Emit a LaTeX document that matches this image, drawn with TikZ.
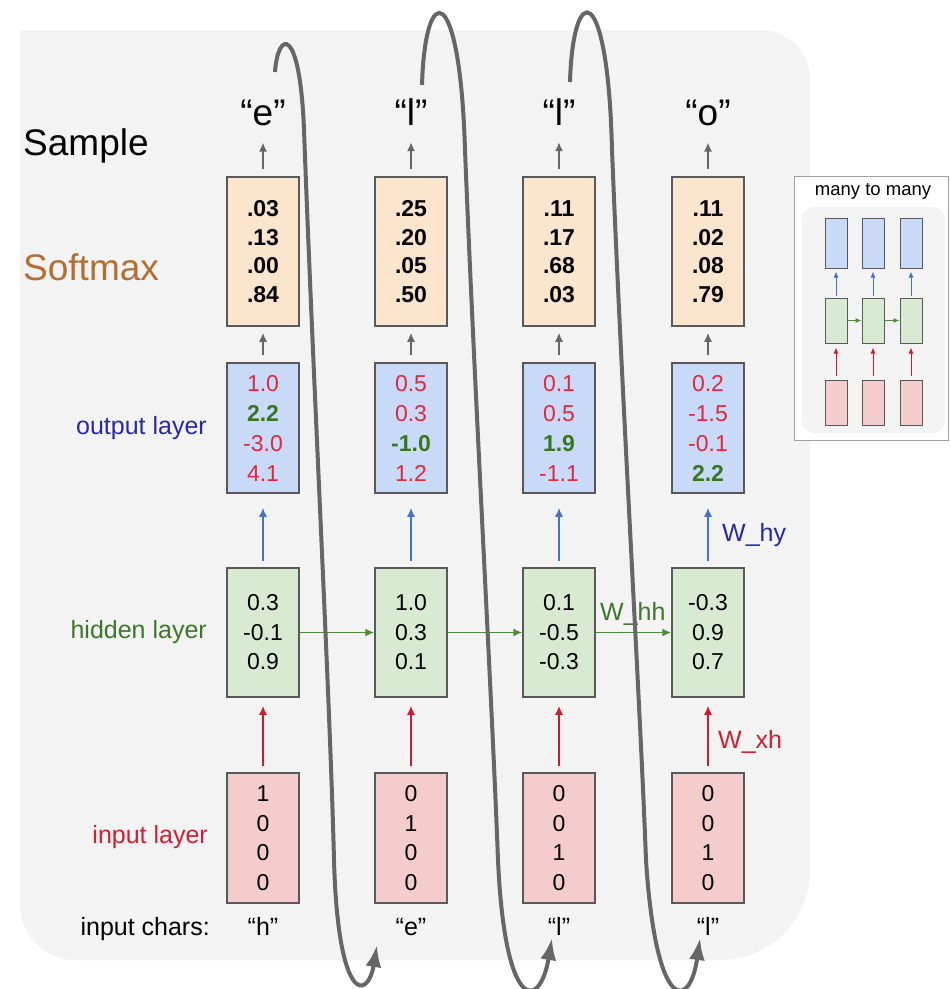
\documentclass[tikz,border=0pt]{standalone}
\usepackage{fontspec}
\setmainfont{Liberation Sans}
\usetikzlibrary{arrows.meta}

\definecolor{bgfill}{HTML}{F3F3F3}
\definecolor{boxline}{HTML}{595959}
\definecolor{softfill}{HTML}{FCE5CD}
\definecolor{outfill}{HTML}{C9DAF8}
\definecolor{hidfill}{HTML}{D9EAD3}
\definecolor{infill}{HTML}{F4CCCC}
\definecolor{valred}{RGB}{225,40,60}
\definecolor{valgreen}{RGB}{56,118,29}
\definecolor{softlab}{RGB}{180,110,50}
\definecolor{outlab}{RGB}{40,40,170}
\definecolor{hidlab}{RGB}{60,120,40}
\definecolor{inlab}{RGB}{210,30,50}
\definecolor{arrgray}{HTML}{666666}
\definecolor{arrblue}{RGB}{70,115,200}
\definecolor{arrgreen}{RGB}{78,138,58}
\definecolor{arrred}{RGB}{200,30,45}
\definecolor{loopgray}{HTML}{666666}
\definecolor{insetline}{HTML}{A0A0A0}

\newcommand\valR[1]{\textcolor{valred}{#1}}
\newcommand\valG[1]{\textcolor{valgreen}{\bfseries #1}}

\begin{document}
\begin{tikzpicture}[x=1pt,y=-1pt,
  vbox/.style={draw=boxline, line width=1.5pt, minimum width=72pt,
    inner sep=0pt, align=center},
  probbox/.style={vbox, fill=softfill, minimum height=149pt,
    font=\fontsize{23}{28.5}\selectfont\bfseries},
  outbox/.style={vbox, fill=outfill, minimum height=130pt,
    font=\fontsize{23}{30}\selectfont},
  hidbox/.style={vbox, fill=hidfill, minimum height=129pt,
    font=\fontsize{23}{29.5}\selectfont},
  inbox/.style={vbox, fill=infill, minimum height=130pt,
    font=\fontsize{23}{29.5}\selectfont},
  samp/.style={inner sep=0pt, font=\fontsize{37}{40}\selectfont},
  chr/.style={inner sep=0pt, font=\fontsize{25}{28}\selectfont},
  rowlab/.style={inner sep=0pt, font=\fontsize{25}{28}\selectfont},
  wlab/.style={inner sep=0pt, font=\fontsize{25}{28}\selectfont},
  grayarr/.style={draw=arrgray, line width=1.5pt, -{Latex[length=9pt,width=8pt]}},
  bluearr/.style={draw=arrblue, line width=1.5pt, -{Latex[length=9pt,width=8pt]}},
  greenarr/.style={draw=arrgreen, line width=1.5pt, -{Latex[length=9pt,width=8pt]}},
  redarr/.style={draw=arrred, line width=1.5pt, -{Latex[length=9pt,width=8pt]}},
  minibox/.style={draw=boxline, line width=1pt, minimum width=22pt, inner sep=0pt},
  miniarr/.style={line width=1pt, -{Latex[length=6pt,width=5pt]}},
  loop/.style={draw=loopgray, line width=4pt, -{Latex[length=22pt,width=16pt]}}
]
\useasboundingbox (0,0) rectangle (951,989);

% background panel
\fill[bgfill] (20,30) -- (762,30) .. controls (788,30) and (810,52) .. (810,78)
  -- (810,870) .. controls (810,920) and (770,960) .. (720,960)
  -- (75,960) .. controls (45,960) and (20,935) .. (20,905) -- cycle;

% row labels
\node[inner sep=0pt, font=\fontsize{37}{40}\selectfont, anchor=base west] (labsample) at (23,155) {Sample};
\node[inner sep=0pt, font=\fontsize{37}{40}\selectfont, text=softlab, anchor=base west] (labsoft) at (23,280) {Softmax};
\node[rowlab, text=outlab, anchor=base east] (labout) at (207,434) {output layer};
\node[rowlab, text=hidlab, anchor=base east] (labhid) at (207,638) {hidden layer};
\node[rowlab, text=inlab, anchor=base east] (labin) at (208,843) {input layer};
\node[rowlab, anchor=base east] (labchars) at (210,935) {input chars:};

% softmax boxes
\node[probbox] (p1) at (263,251.5) {.03\\.13\\.00\\.84};
\node[probbox] (p2) at (411,251.5) {.25\\.20\\.05\\.50};
\node[probbox] (p3) at (559,251.5) {.11\\.17\\.68\\.03};
\node[probbox] (p4) at (708,251.5) {.11\\.02\\.08\\.79};

% output layer
\node[outbox] (o1) at (263,428) {\valR{1.0}\\\valG{2.2}\\\valR{-3.0}\\\valR{4.1}};
\node[outbox] (o2) at (411,428) {\valR{0.5}\\\valR{0.3}\\\valG{-1.0}\\\valR{1.2}};
\node[outbox] (o3) at (559,428) {\valR{0.1}\\\valR{0.5}\\\valG{1.9}\\\valR{-1.1}};
\node[outbox] (o4) at (708,428) {\valR{0.2}\\\valR{-1.5}\\\valR{-0.1}\\\valG{2.2}};

% hidden layer
\node[hidbox] (h1) at (263,632.5) {0.3\\-0.1\\0.9};
\node[hidbox] (h2) at (411,632.5) {1.0\\0.3\\0.1};
\node[hidbox] (h3) at (559,632.5) {0.1\\-0.5\\-0.3};
\node[hidbox] (h4) at (708,632.5) {-0.3\\0.9\\0.7};

% input layer
\node[inbox] (x1) at (263,838) {1\\0\\0\\0};
\node[inbox] (x2) at (411,838) {0\\1\\0\\0};
\node[inbox] (x3) at (559,838) {0\\0\\1\\0};
\node[inbox] (x4) at (708,838) {0\\0\\1\\0};

% sampled characters
\node[samp, anchor=base] (s1) at (263,125) {“e”};
\node[samp, anchor=base] (s2) at (411,125) {“l”};
\node[samp, anchor=base] (s3) at (559,125) {“l”};
\node[samp, anchor=base] (s4) at (708,125) {“o”};

% input characters
\node[chr, anchor=base] (c1) at (263,935) {“h”};
\node[chr, anchor=base] (c2) at (411,935) {“e”};
\node[chr, anchor=base] (c3) at (559,935) {“l”};
\node[chr, anchor=base] (c4) at (708,935) {“l”};

% vertical connections
\foreach \i in {1,2,3,4}{
  \draw[grayarr, shorten <=7pt, shorten >=17pt] (p\i.north) -- (s\i.south);
  \draw[grayarr, shorten <=7pt, shorten >=6pt] (o\i.north) -- (p\i.south);
  \draw[bluearr, shorten <=6pt, shorten >=14pt] (h\i.north) -- (o\i.south);
  \draw[redarr, shorten <=6pt, shorten >=8pt] (x\i.north) -- (h\i.south);
}
% recurrent connections
\draw[greenarr] (h1.east) -- (h2.west);
\draw[greenarr] (h2.east) -- (h3.west);
\draw[greenarr] (h3.east) -- (h4.west);

% weight labels
\node[wlab, text=outlab, anchor=base west] (why) at (722,541) {W\_hy};
\node[wlab, text=hidlab, anchor=base west] (whh) at (600,620) {W\_hh};
\node[wlab, text=inlab, anchor=base west] (wxh) at (718,748) {W\_xh};

% inset: many to many
\node[draw=insetline, fill=white, line width=1pt, minimum width=154pt,
  minimum height=264pt, inner sep=0pt] (inset) at (871,308) {};
\node[inner sep=0pt, font=\fontsize{18.5}{20}\selectfont, anchor=base] (insettitle) at (873,195) {many to many};
\fill[bgfill, rounded corners=12pt] (802,207) rectangle (945,433);
\foreach \i/\xx in {1/836,2/873,3/911}{
  \node[minibox, fill=outfill, minimum height=50pt] (mo\i) at (\xx,243) {};
  \node[minibox, fill=hidfill, minimum height=45pt] (mh\i) at (\xx,320.5) {};
  \node[minibox, fill=infill, minimum height=45pt] (mx\i) at (\xx,402.5) {};
  \draw[miniarr, draw=arrblue, shorten <=2pt, shorten >=3pt] (mh\i.north) -- (mo\i.south);
  \draw[miniarr, draw=arrred, shorten <=4pt, shorten >=4pt] (mx\i.north) -- (mh\i.south);
}
\draw[miniarr, draw=arrgreen] (mh1.east) -- (mh2.west);
\draw[miniarr, draw=arrgreen] (mh2.east) -- (mh3.west);

% feedback loops: each sampled character becomes the next input
\coordinate (fa1) at (275,72);
\coordinate (fb1) at (377,945);
\coordinate (fa2) at (422,85);
\coordinate (fb2) at (552,938);
\coordinate (fa3) at (570,82);
\coordinate (fb3) at (700,938);
\draw[loop] (fa1) .. controls (278,30) and (300,25) .. (304,130)
  .. controls (314,400) and (330,700) .. (334,860)
  .. controls (338,1005) and (368,1000) .. (fb1);
\draw[loop] (fa2) .. controls (425,-20) and (460,-20) .. (465,150)
  .. controls (475,400) and (492,700) .. (498,860)
  .. controls (505,1015) and (540,1010) .. (fb2);
\draw[loop] (fa3) .. controls (573,-20) and (608,-20) .. (612,150)
  .. controls (622,400) and (640,700) .. (646,860)
  .. controls (656,1015) and (690,1010) .. (fb3);
\end{tikzpicture}
\end{document}
